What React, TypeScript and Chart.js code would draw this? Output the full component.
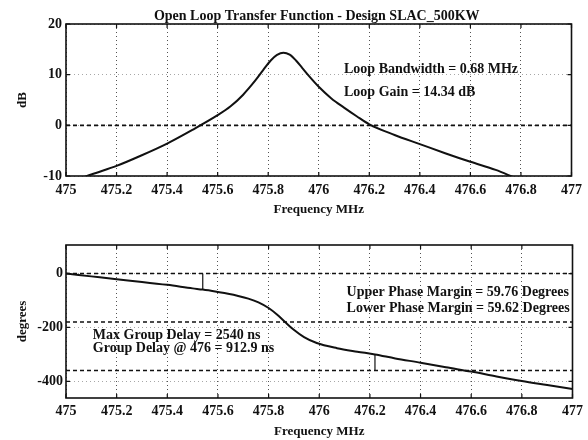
import React, { useEffect, useRef } from "react";
import { Chart, registerables } from "chart.js";

Chart.register(...registerables);

// ---------- data ----------
const titleText = "Open Loop Transfer Function - Design SLAC_500KW";
const xAxisTitle = "Frequency MHz";
const gainAxisTitle = "dB";
const phaseAxisTitle = "degrees";

const freqTicks = [475, 475.2, 475.4, 475.6, 475.8, 476, 476.2, 476.4, 476.6, 476.8, 477];
const gainTicks = [-10, 0, 10, 20];
const phaseTicks = [-400, -200, 0];

const gainFreq = [
  475.0, 475.1, 475.2, 475.3, 475.4, 475.5, 475.6, 475.65, 475.7, 475.75, 475.78, 475.81,
  475.835, 475.86, 475.885, 475.91, 475.935, 475.96, 476.0, 476.05, 476.1, 476.15, 476.2,
  476.3, 476.4, 476.5, 476.6, 476.7, 476.8, 477.0,
];
const gainDb = [
  -11.6, -9.7, -8.0, -5.9, -3.6, -0.9, 2.0, 3.7, 6.0, 8.9, 10.9, 12.8,
  13.9, 14.34, 13.95, 12.8, 11.3, 9.8, 7.6, 5.3, 3.5, 1.8, 0.2,
  -1.9, -3.7, -5.5, -7.2, -8.8, -10.8, -13.8,
];

const phaseFreq = [
  475.0, 475.1, 475.2, 475.3, 475.4, 475.5, 475.54, 475.6, 475.64, 475.68, 475.72, 475.76,
  475.8, 475.833, 475.865, 475.897, 475.94, 475.99, 476.07, 476.15, 476.22, 476.3, 476.4,
  476.5, 476.6, 476.7, 476.8, 476.9, 477.0,
];
const phaseDeg = [
  0, -10.5, -21, -31, -42, -55, -59.6, -68.5, -75, -83, -93, -107,
  -128, -152, -180, -207, -236, -258, -277, -290, -300.2, -315, -331,
  -348, -364, -382, -399, -414, -429,
];

const gainRefLines = [0];
const phaseRefLines = [0, -180, -360];

// phase-margin markers: [freq, from, to]
const lowerMarginMarker = [475.54, 0, -59.6];
const upperMarginMarker = [476.22, -300.2, -360];

const gainNotes = ["Loop Bandwidth = 0.68 MHz", "Loop Gain = 14.34 dB"];
const phaseNotesRight = ["Upper Phase Margin = 59.76 Degrees", "Lower Phase Margin = 59.62 Degrees"];
const phaseNotesLeft = ["Max Group Delay = 2540 ns", "Group Delay @ 476 = 912.9 ns"];

// ---------- styling ----------
const SERIF = "'Liberation Serif', 'Times New Roman', serif";
const INK = "#111";

type Note = { lines: string[]; x: number; y: number; gap: number };

function framePlugin(notes: Note[], title?: string) {
  return {
    id: "frame",
    afterDraw(chart: any) {
      const { ctx, chartArea: a, scales } = chart;
      ctx.save();
      ctx.strokeStyle = INK;
      ctx.lineWidth = 1.2;
      const xs = scales.x;
      const ys = scales.y;
      xs.ticks.forEach((t: any) => {
        const px = xs.getPixelForValue(t.value);
        ctx.beginPath();
        ctx.moveTo(px, a.bottom);
        ctx.lineTo(px, a.bottom - 4);
        ctx.moveTo(px, a.top);
        ctx.lineTo(px, a.top + 4);
        ctx.stroke();
      });
      ys.ticks.forEach((t: any) => {
        const py = ys.getPixelForValue(t.value);
        ctx.beginPath();
        ctx.moveTo(a.left, py);
        ctx.lineTo(a.left + 4, py);
        ctx.moveTo(a.right, py);
        ctx.lineTo(a.right - 4, py);
        ctx.stroke();
      });
      ctx.lineWidth = 1.6;
      ctx.strokeRect(a.left, a.top, a.right - a.left, a.bottom - a.top);
      ctx.fillStyle = INK;
      ctx.font = `bold 14px ${SERIF}`;
      ctx.textAlign = "left";
      ctx.textBaseline = "middle";
      notes.forEach((n) => {
        const px = xs.getPixelForValue(n.x);
        const py = ys.getPixelForValue(n.y);
        n.lines.forEach((l, i) => ctx.fillText(l, px, py + i * n.gap));
      });
      if (title) {
        ctx.textAlign = "center";
        ctx.textBaseline = "alphabetic";
        ctx.fillText(title, (a.left + a.right) / 2 - 2, a.top - 4);
      }
      ctx.restore();
    },
  };
}

function lineSet(xsArr: number[], ysArr: number[], extra: any = {}) {
  return {
    data: xsArr.map((x, i) => ({ x, y: ysArr[i] })),
    borderColor: INK,
    borderWidth: 2,
    pointRadius: 0,
    cubicInterpolationMode: "monotone",
    ...extra,
  };
}

function baseOptions(
  yMin: number,
  yMax: number,
  yTicks: number[],
  yTitle: string,
  axisHeight: number,
  padTop: number,
  xLabelPad: number,
  yLabelPad: number,
  xTitlePad: number
) {
  return {
    responsive: false,
    animation: false,
    events: [],
    layout: { padding: { top: padTop, right: 12, left: 0, bottom: 0 } },
    plugins: { legend: { display: false }, tooltip: { enabled: false }, title: { display: false } },
    scales: {
      x: {
        type: "linear",
        min: 475,
        max: 477,
        afterBuildTicks: (s: any) => {
          s.ticks = freqTicks.map((v) => ({ value: v }));
        },
        afterFit: (s: any) => {
          s.height = axisHeight;
        },
        ticks: {
          color: INK,
          padding: xLabelPad,
          maxRotation: 0,
          autoSkip: false,
          font: { family: SERIF, size: 14, weight: "bold" },
          callback: (v: any) => String(Math.round(Number(v) * 10) / 10),
        },
        grid: { color: "rgba(40,40,40,0.8)", lineWidth: 1, drawTicks: false },
        border: { display: false, dash: [1, 3] },
        title: {
          display: true,
          text: xAxisTitle,
          color: INK,
          font: { family: SERIF, size: 13, weight: "bold" },
          padding: { top: 0, bottom: xTitlePad },
        },
      },
      y: {
        type: "linear",
        min: yMin,
        max: yMax,
        afterBuildTicks: (s: any) => {
          s.ticks = yTicks.map((v) => ({ value: v }));
        },
        afterFit: (s: any) => {
          s.width = 66;
        },
        ticks: {
          color: INK,
          padding: yLabelPad,
          font: { family: SERIF, size: 14, weight: "bold" },
        },
        grid: { color: "rgba(60,60,60,0.45)", lineWidth: 1, drawTicks: false },
        border: { display: false, dash: [1, 3] },
        title: {
          display: true,
          text: yTitle,
          color: INK,
          font: { family: SERIF, size: 13, weight: "bold" },
          padding: { top: 15, bottom: 0 },
        },
      },
    },
  };
}

export default function App() {
  const topRef = useRef<HTMLCanvasElement>(null);
  const botRef = useRef<HTMLCanvasElement>(null);

  useEffect(() => {
    const refSets = (vals: number[]) =>
      vals.map((v) =>
        lineSet([475, 477], [v, v], { borderWidth: 1.6, borderDash: [4, 3], cubicInterpolationMode: "default" })
      );

    const top = new Chart(topRef.current as HTMLCanvasElement, {
      type: "line",
      data: {
        datasets: [...refSets(gainRefLines), lineSet(gainFreq, gainDb)] as any,
      },
      options: baseOptions(-10, 20, gainTicks, gainAxisTitle, 44, 24, 6, 4, 3) as any,
      plugins: [framePlugin([{ lines: gainNotes, x: 476.1, y: 11.0, gap: 22.5 }], titleText)],
    });

    const bot = new Chart(botRef.current as HTMLCanvasElement, {
      type: "line",
      data: {
        datasets: [
          ...refSets(phaseRefLines),
          lineSet(phaseFreq, phaseDeg),
          lineSet([lowerMarginMarker[0], lowerMarginMarker[0]], [lowerMarginMarker[1], lowerMarginMarker[2]], {
            borderWidth: 1.2,
            cubicInterpolationMode: "default",
          }),
          lineSet([upperMarginMarker[0], upperMarginMarker[0]], [upperMarginMarker[1], upperMarginMarker[2]], {
            borderWidth: 1.2,
            cubicInterpolationMode: "default",
          }),
        ] as any,
      },
      options: baseOptions(-462, 106, phaseTicks, phaseAxisTitle, 42, 25, 5, 3, 1) as any,
      plugins: [
        framePlugin([
          { lines: phaseNotesRight, x: 476.108, y: -70, gap: 15.6 },
          { lines: phaseNotesLeft, x: 475.106, y: -230, gap: 12.8 },
        ]),
      ],
    });

    return () => {
      top.destroy();
      bot.destroy();
    };
  }, []);

  return (
    <div style={{ position: "fixed", left: 0, top: 0, width: 588, height: 440, background: "#fff" }}>
      <canvas ref={topRef} width={588} height={220} style={{ display: "block", width: 588, height: 220 }} />
      <canvas ref={botRef} width={588} height={220} style={{ display: "block", width: 588, height: 220 }} />
    </div>
  );
}
